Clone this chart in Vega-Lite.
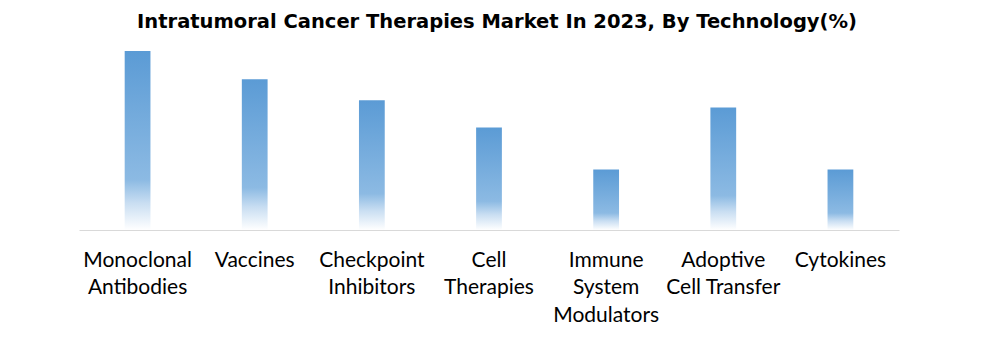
{
  "$schema": "https://vega.github.io/schema/vega-lite/v6.json",
  "autosize": {"type": "none"},
  "width": 820,
  "height": 179,
  "padding": {"left": 79, "top": 51, "right": 100, "bottom": 127},
  "background": "white",
  "title": {
    "text": "Intratumoral Cancer Therapies Market In 2023, By Technology(%)",
    "font": "DejaVu Sans",
    "fontSize": 19.5,
    "fontWeight": "bold",
    "color": "#000000",
    "anchor": "middle",
    "offset": 19,
    "dx": 8
  },
  "data": {
    "values": [
      {"technology": "Monoclonal Antibodies", "share": 22.2},
      {"technology": "Vaccines", "share": 18.7},
      {"technology": "Checkpoint Inhibitors", "share": 16.1},
      {"technology": "Cell Therapies", "share": 12.7},
      {"technology": "Immune System Modulators", "share": 7.5},
      {"technology": "Adoptive Cell Transfer", "share": 15.2},
      {"technology": "Cytokines", "share": 7.5}
    ]
  },
  "mark": {
    "type": "bar",
    "color": {
      "gradient": "linear",
      "x1": 0, "y1": 0, "x2": 0, "y2": 1,
      "stops": [
        {"offset": 0, "color": "#5B9BD5"},
        {"offset": 0.72, "color": "#8CBAE3"},
        {"offset": 0.85, "color": "#C9DEF2"},
        {"offset": 1, "color": "#FFFFFF"}
      ]
    }
  },
  "encoding": {
    "x": {
      "field": "technology",
      "type": "nominal",
      "sort": null,
      "scale": {"paddingInner": 0.78, "paddingOuter": 0.39},
      "axis": {
        "title": null,
        "ticks": false,
        "domainColor": "#D9D9D9",
        "domainWidth": 1,
        "labelAngle": 0,
        "labelFont": "Lato",
        "labelFontSize": 21,
        "labelColor": "#000000",
        "labelPadding": 19,
        "labelLineHeight": 27.5,
        "labelBaseline": "top",
        "labelLimit": 0,
        "labelExpr": "datum.value == 'Monoclonal Antibodies' ? ['Monoclonal', 'Antibodies'] : datum.value == 'Checkpoint Inhibitors' ? ['Checkpoint', 'Inhibitors'] : datum.value == 'Cell Therapies' ? ['Cell', 'Therapies'] : datum.value == 'Immune System Modulators' ? ['Immune', 'System', 'Modulators'] : datum.value == 'Adoptive Cell Transfer' ? ['Adoptive', 'Cell Transfer'] : datum.value"
      }
    },
    "y": {
      "field": "share",
      "type": "quantitative",
      "scale": {"domain": [0, 22.2], "nice": false},
      "axis": null
    }
  },
  "config": {"view": {"stroke": null}}
}
